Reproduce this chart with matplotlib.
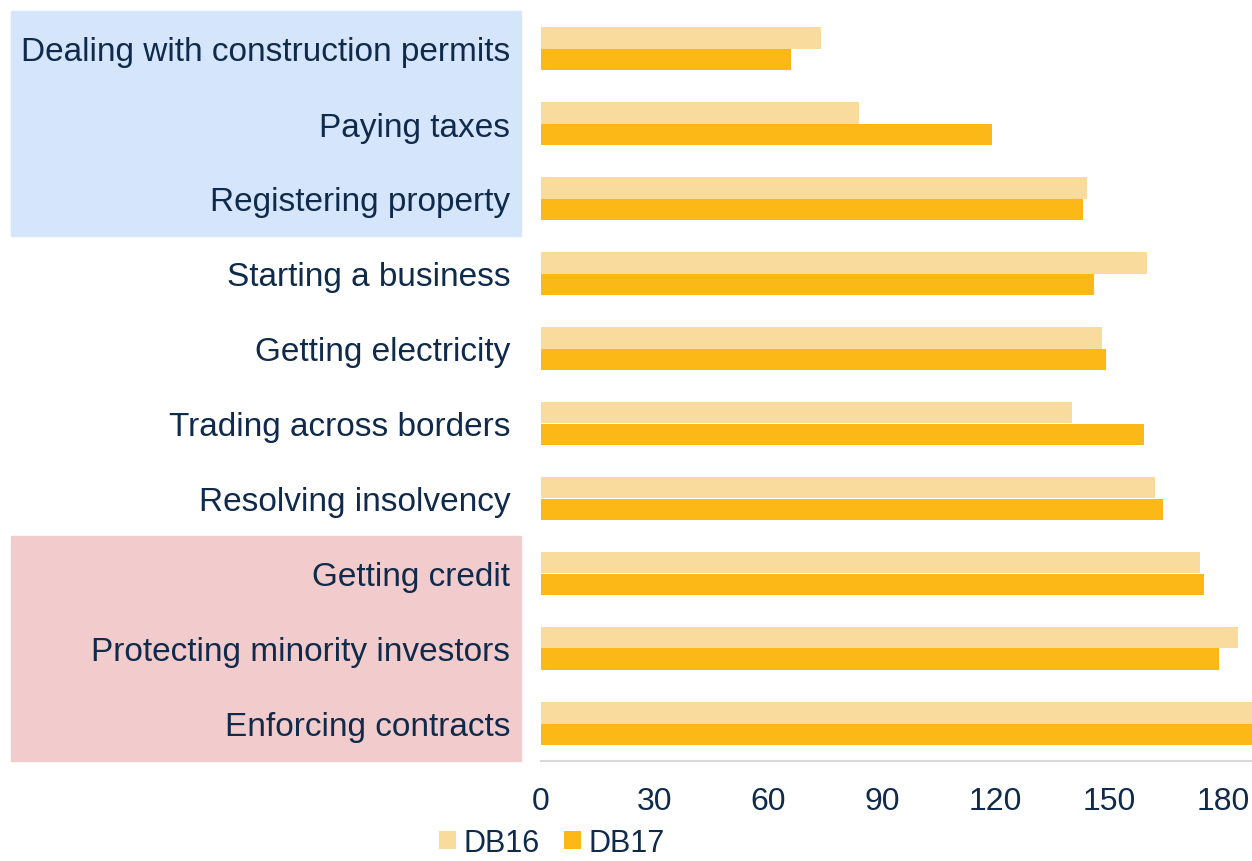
import numpy as np
import matplotlib
matplotlib.use("Agg")
import matplotlib.pyplot as plt
from matplotlib.patches import Rectangle
from matplotlib.transforms import blended_transform_factory

plt.rcParams['font.family'] = ['Liberation Sans', 'DejaVu Sans']

# Data
categories = [
    "Dealing with construction permits",
    "Paying taxes",
    "Registering property",
    "Starting a business",
    "Getting electricity",
    "Trading across borders",
    "Resolving insolvency",
    "Getting credit",
    "Protecting minority investors",
    "Enforcing contracts",
]
db16 = [74, 84, 144, 160, 148, 140, 162, 174, 184, 189]
db17 = [66, 119, 143, 146, 149, 159, 164, 175, 179, 189]
xticks = [0, 30, 60, 90, 120, 150, 180]

text_color = '#0F2A4A'
c16 = '#F9DB9E'
c17 = '#FBB817'

fig = plt.figure(figsize=(12.52, 8.62), dpi=100)
ax = fig.add_axes([541 / 1252, 1 - 762 / 862, 1 - 541 / 1252, (762 - 12) / 862])

y = np.arange(len(categories))
h = 0.287
ax.barh(y - h / 2, db16, height=h, color=c16, label='DB16', zorder=2)
ax.barh(y + h / 2, db17, height=h, color=c17, label='DB17', zorder=2)

ax.set_ylim(len(categories) - 0.5, -0.5)
ax.set_xlim(0, 187.6)

ax.set_yticks(y)
ax.set_yticklabels(categories, fontsize=24, color=text_color)
ax.set_xticks(xticks)
ax.set_xticklabels([str(t) for t in xticks], fontsize=23, color=text_color)
ax.tick_params(axis='y', length=0, pad=22)
ax.tick_params(axis='x', length=0, pad=18)

for s in ['top', 'right', 'left']:
    ax.spines[s].set_visible(False)
ax.spines['bottom'].set_color('#D9D9D9')
ax.spines['bottom'].set_linewidth(1.5)

# highlighted label groups, drawn behind the tick labels
tr = blended_transform_factory(fig.transFigure, ax.transData)
x0 = 11 / 1252
w = (521 - 11) / 1252
ax.add_patch(Rectangle((x0, -0.5), w, 3, transform=tr, color='#D5E5FB',
                       zorder=0, clip_on=False))
ax.add_patch(Rectangle((x0, 6.5), w, 3, transform=tr, color='#F2CBCC',
                       zorder=0, clip_on=False))

fig.legend(loc='lower center', bbox_to_anchor=(0.441, -0.021), ncol=2, frameon=False,
           fontsize=22, handlelength=0.55, handleheight=0.55, handletextpad=0.25,
           columnspacing=0.8, labelcolor=text_color, borderpad=0.2)

fig.savefig('out.png', dpi=100)
